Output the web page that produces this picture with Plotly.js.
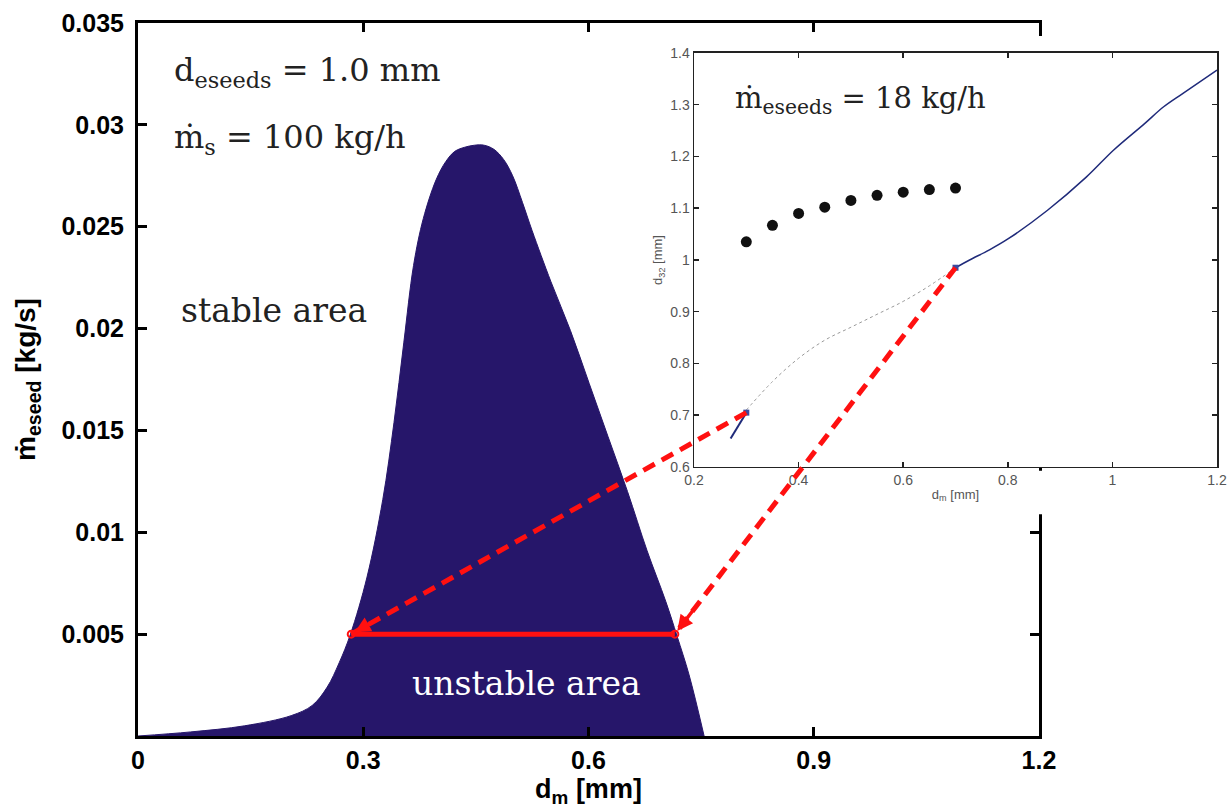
<!DOCTYPE html>
<html>
<head>
<meta charset="utf-8">
<script src="https://cdn.plot.ly/plotly-3.0.1.min.js"></script>
<style>html,body{margin:0;padding:0;background:#fff;}#chart{width:1229px;height:808px;}</style>
</head>
<body>
<div id="chart"></div>
<script>
// ---- main chart data: stability boundary m_eseed(d_m) ----
const boundaryX = [0, 0.07, 0.142, 0.204, 0.232, 0.252, 0.268, 0.283, 0.305, 0.326, 0.341, 0.354, 0.367, 0.380, 0.397, 0.410, 0.422, 0.435, 0.448, 0.461, 0.474, 0.487, 0.499, 0.512, 0.525, 0.550, 0.576, 0.601, 0.626, 0.652, 0.678, 0.703, 0.718, 0.734, 0.754];
const boundaryY = [0, 0.0002, 0.0005, 0.001, 0.0015, 0.0024, 0.0036, 0.005, 0.0078, 0.0116, 0.0154, 0.0193, 0.0231, 0.0254, 0.0273, 0.0282, 0.0287, 0.0289, 0.0290, 0.0290, 0.0288, 0.0283, 0.0275, 0.0262, 0.0248, 0.0223, 0.0199, 0.0173, 0.0147, 0.0120, 0.0091, 0.0066, 0.0049, 0.0030, 0];
// unstable band at m_eseed = 18 kg/h
const bandX = [0.284, 0.715];
const bandY = [0.005, 0.005];
const mainXTicks = [0, 0.3, 0.6, 0.9, 1.2];
const mainXTickText = ['0', '0.3', '0.6', '0.9', '1.2'];
const mainYTicks = [0.005, 0.01, 0.015, 0.02, 0.025, 0.03, 0.035];
const mainYTickText = ['0.005', '0.01', '0.015', '0.02', '0.025', '0.03', '0.035'];

// ---- inset data: d32 vs d_m ----
const dotsX = [0.3, 0.35, 0.4, 0.45, 0.5, 0.55, 0.6, 0.65, 0.7];
const dotsY = [1.035, 1.067, 1.090, 1.102, 1.115, 1.125, 1.131, 1.136, 1.139];
const lowBranchX = [0.27, 0.285, 0.3];
const lowBranchY = [0.655, 0.68, 0.705];
const unstableX = [0.3, 0.35, 0.4, 0.45, 0.5, 0.55, 0.6, 0.65, 0.7];
const unstableY = [0.71, 0.765, 0.81, 0.845, 0.87, 0.895, 0.92, 0.95, 0.985];
const highBranchX = [0.7, 0.727, 0.764, 0.801, 0.876, 0.95, 1.002, 1.061, 1.098, 1.135, 1.2];
const highBranchY = [0.985, 1.0, 1.019, 1.041, 1.096, 1.16, 1.212, 1.263, 1.296, 1.322, 1.367];
const linkInsetX = [0.3, 0.7];
const linkInsetY = [0.705, 0.985];

// ---- layout geometry ----
const mainXDomain = [0, 0.835], mainYDomain = [0, 1];
const mainXRange = [0, 1.2], mainYRange = [0, 0.035];
const insetXDomain = [0.5153, 1], insetYDomain = [0.3773, 0.958];
const insetXRange = [0.2, 1.2], insetYRange = [0.6, 1.4];

function insetToMain(xi, yi) {
  const px = insetXDomain[0] + (xi - insetXRange[0]) / (insetXRange[1] - insetXRange[0]) * (insetXDomain[1] - insetXDomain[0]);
  const py = insetYDomain[0] + (yi - insetYRange[0]) / (insetYRange[1] - insetYRange[0]) * (insetYDomain[1] - insetYDomain[0]);
  const xm = mainXRange[0] + (px - mainXDomain[0]) / (mainXDomain[1] - mainXDomain[0]) * (mainXRange[1] - mainXRange[0]);
  const ym = mainYRange[0] + (py - mainYDomain[0]) / (mainYDomain[1] - mainYDomain[0]) * (mainYRange[1] - mainYRange[0]);
  return [xm, ym];
}

const navy = '#26166a';
const red = '#ff1010';
const serif = 'DejaVu Serif, Liberation Serif, serif';
const sans = 'Liberation Sans, Arial, sans-serif';

const traces = [
  { x: boundaryX, y: boundaryY, xaxis: 'x', yaxis: 'y', type: 'scatter', mode: 'lines',
    line: { color: navy, width: 1, shape: 'spline', smoothing: 1.0 }, fill: 'tozeroy', fillcolor: navy, hoverinfo: 'skip' },
  { x: bandX, y: bandY, xaxis: 'x', yaxis: 'y', type: 'scatter', mode: 'lines+markers',
    line: { color: red, width: 5 }, marker: { symbol: 'circle-open', size: 7, color: red, line: { width: 2 } } },
  { x: dotsX, y: dotsY, xaxis: 'x2', yaxis: 'y2', type: 'scatter', mode: 'markers',
    marker: { color: '#111', size: 11 } },
  { x: lowBranchX, y: lowBranchY, xaxis: 'x2', yaxis: 'y2', type: 'scatter', mode: 'lines',
    line: { color: '#1f2a7a', width: 2 } },
  { x: unstableX, y: unstableY, xaxis: 'x2', yaxis: 'y2', type: 'scatter', mode: 'lines',
    line: { color: '#9a9a9a', width: 1, dash: 'dot', shape: 'spline' } },
  { x: highBranchX, y: highBranchY, xaxis: 'x2', yaxis: 'y2', type: 'scatter', mode: 'lines',
    line: { color: '#1f2a7a', width: 1.5, shape: 'spline' } },
  { x: linkInsetX, y: linkInsetY, xaxis: 'x2', yaxis: 'y2', type: 'scatter', mode: 'markers',
    marker: { symbol: 'square', color: '#3a4aa0', size: 6 } }
];

// dashed link lines from inset points to band ends
const shapes = [];
const annotations = [];
for (let i = 0; i < 2; i++) {
  const s = insetToMain(linkInsetX[i], linkInsetY[i]);
  const ex = bandX[i], ey = bandY[i];
  shapes.push({ type: 'line', xref: 'x', yref: 'y', layer: 'above', x0: s[0], y0: s[1], x1: ex, y1: ey,
    line: { color: red, width: 5, dash: '13px,8px' } });
  const t = 0.07;
  annotations.push({ xref: 'x', yref: 'y', axref: 'x', ayref: 'y', x: ex, y: ey,
    ax: ex + t * (s[0] - ex), ay: ey + t * (s[1] - ey), text: '', showarrow: true,
    arrowhead: 2, arrowsize: 0.9, arrowwidth: 3.5, arrowcolor: red, standoff: 4 });
}
// hide main right frame behind inset label area
shapes.push({ type: 'rect', xref: 'paper', yref: 'paper', layer: 'above', x0: 0.828, x1: 0.842, y0: 0.9607, y1: 0.9818,
  line: { width: 0 }, fillcolor: 'white' });
shapes.push({ type: 'rect', xref: 'paper', yref: 'paper', layer: 'above', x0: 0.828, x1: 0.842, y0: 0.311, y1: 0.372,
  line: { width: 0 }, fillcolor: 'white' });

annotations.push(
  { xref: 'x', yref: 'y', x: 0.045, y: 0.0326, xanchor: 'left', yanchor: 'middle', showarrow: false,
    text: 'd<sub>eseeds</sub> = 1.0 mm', font: { family: serif, size: 32, color: '#222' } },
  { xref: 'x', yref: 'y', x: 0.045, y: 0.0293, xanchor: 'left', yanchor: 'middle', showarrow: false,
    text: 'ṁ<sub>s</sub> = 100 kg/h', font: { family: serif, size: 32, color: '#222' } },
  { xref: 'x', yref: 'y', x: 0.054, y: 0.0209, xanchor: 'left', yanchor: 'middle', showarrow: false,
    text: 'stable area', font: { family: serif, size: 33, color: '#222' } },
  { xref: 'x', yref: 'y', x: 0.518, y: 0.0026, xanchor: 'center', yanchor: 'middle', showarrow: false,
    text: 'unstable area', font: { family: serif, size: 33, color: '#ffffff' } },
  { xref: 'x2', yref: 'y2', x: 0.274, y: 1.309, xanchor: 'left', yanchor: 'middle', showarrow: false,
    text: 'ṁ<sub>eseeds</sub> = 18 kg/h', font: { family: serif, size: 29, color: '#222' } }
);

const layout = {
  width: 1229, height: 808,
  margin: { l: 138, r: 12, t: 23, b: 72 },
  paper_bgcolor: 'white', plot_bgcolor: '#ffffff',
  showlegend: false,
  xaxis: {
    domain: mainXDomain, range: mainXRange, anchor: 'y',
    tickmode: 'array', tickvals: mainXTicks, ticktext: mainXTickText,
    ticks: 'inside', ticklen: 9, tickwidth: 3, tickcolor: '#000',
    showline: true, linewidth: 3, linecolor: '#000', mirror: 'ticks',
    showgrid: false, zeroline: false,
    tickfont: { family: sans, size: 25, weight: 'bold', color: '#000' },
    title: { text: 'd<sub>m</sub> [mm]', font: { family: sans, size: 27, weight: 'bold', color: '#000' }, standoff: 6 }
  },
  yaxis: {
    domain: mainYDomain, range: mainYRange, anchor: 'x',
    tickmode: 'array', tickvals: mainYTicks, ticktext: mainYTickText,
    ticks: 'inside', ticklen: 9, tickwidth: 3, tickcolor: '#000',
    showline: true, linewidth: 3, linecolor: '#000', mirror: 'ticks',
    showgrid: false, zeroline: false, ticklabelstandoff: 6,
    tickfont: { family: sans, size: 25, weight: 'bold', color: '#000' },
    title: { text: 'ṁ<sub>eseed</sub> [kg/s]', font: { family: sans, size: 28, weight: 'bold', color: '#000' }, standoff: 18 }
  },
  xaxis2: {
    domain: insetXDomain, range: insetXRange, anchor: 'y2', dtick: 0.2, tick0: 0.2,
    ticks: 'inside', ticklen: 5, tickwidth: 1.5, tickcolor: '#222',
    showline: true, linewidth: 1.5, linecolor: '#222', mirror: 'ticks',
    showgrid: false, zeroline: false,
    tickfont: { family: sans, size: 14, color: '#555' },
    title: { text: 'd<sub>m</sub> [mm]', font: { family: sans, size: 13, color: '#555' }, standoff: 2 }
  },
  yaxis2: {
    domain: insetYDomain, range: insetYRange, anchor: 'x2', dtick: 0.1, tick0: 0.6,
    ticks: 'inside', ticklen: 5, tickwidth: 1.5, tickcolor: '#222',
    showline: true, linewidth: 1.5, linecolor: '#222', mirror: 'ticks',
    showgrid: false, zeroline: false,
    tickfont: { family: sans, size: 14, color: '#555' },
    title: { text: 'd<sub>32</sub> [mm]', font: { family: sans, size: 13, color: '#555' }, standoff: 4 }
  },
  shapes: shapes,
  annotations: annotations
};

Plotly.newPlot('chart', traces, layout, { staticPlot: true, displayModeBar: false });
</script>
</body>
</html>
